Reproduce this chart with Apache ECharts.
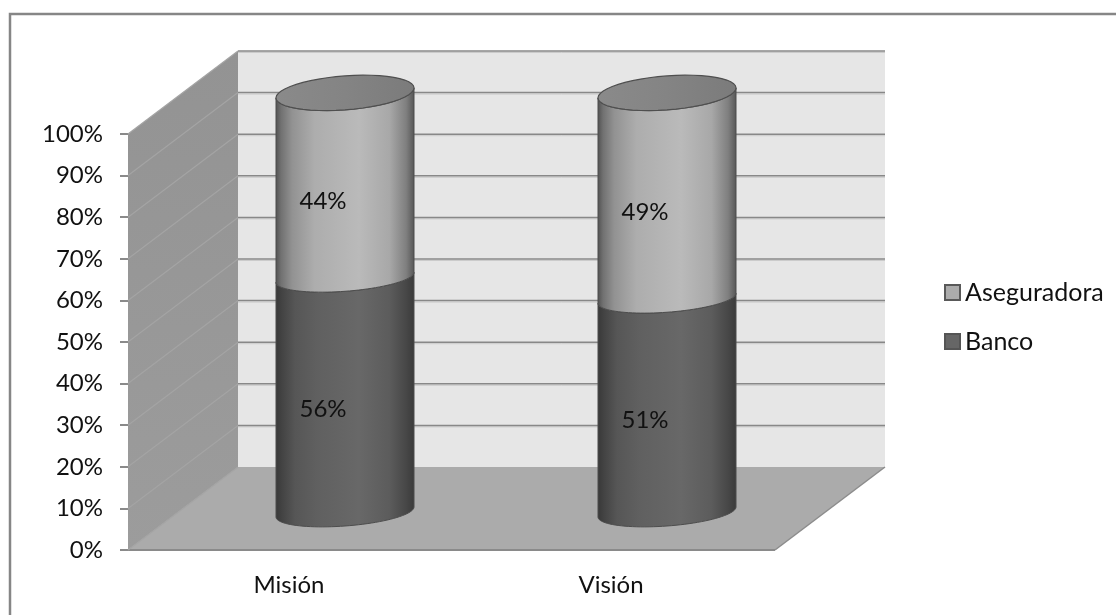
<!DOCTYPE html>
<html>
<head>
<meta charset="utf-8">
<style>html,body{margin:0;padding:0;background:#fff}#chart{width:1116px;height:615px}</style>
<script src="https://cdn.jsdelivr.net/npm/echarts@6/dist/echarts.min.js"></script>
</head>
<body>
<div id="chart"></div>
<script>
const categories = ['Misión', 'Visión'];
const banco = [56, 51];
const aseguradora = [44, 49];
const yTicks = [0, 10, 20, 30, 40, 50, 60, 70, 80, 90, 100];

// Oblique projection of the chart box
const DEPTH_X = 110, DEPTH_Y = -83, FLOOR_EXTRA = 3;
// Cylinder section
const RADIUS_X = 69, TILT = -5, RADIUS_Y = 14, CAP_RADIUS_Y = 17;
const FONT = 'Lato, "Open Sans", sans-serif';

function rimPoints(cx, cy, ry, from, to) {
  // Points along a tilted ellipse, angle 0 on the right, PI on the left, positive towards the viewer
  const pts = [];
  const n = 48;
  for (let i = 0; i <= n; i++) {
    const a = from + (to - from) * i / n;
    const c = Math.cos(a), s = Math.sin(a);
    pts.push([cx + RADIUS_X * c, cy + TILT * c + ry * s]);
  }
  return pts;
}

function cylinderCentre(api, cat, val) {
  const p = api.coord([cat, val]);
  const base = api.coord([cat, 0]);
  return [p[0] + DEPTH_X / 2 + 1, base[1] - 38 + (p[1] - base[1]) * 1.0075];
}

function verticalGradient(stops) {
  return { type: 'linear', x: 0, y: 0, x2: 1, y2: 0,
    colorStops: stops.map(s => ({ offset: s[0], color: s[1] })) };
}

const darkBody = verticalGradient([[0, '#383838'], [0.05, '#444444'], [0.14, '#565656'], [0.3, '#606060'], [0.6, '#686868'], [0.82, '#5c5c5c'], [0.94, '#474747'], [1, '#3a3a3a']]);
const lightBody = verticalGradient([[0, '#505050'], [0.04, '#717171'], [0.12, '#929292'], [0.28, '#adadad'], [0.6, '#bababa'], [0.82, '#a8a8a8'], [0.94, '#7f7f7f'], [1, '#555555']]);
const capFill = verticalGradient([[0, '#8a8a8a'], [0.5, '#848484'], [1, '#7b7b7b']]);

function cylinderItem(fill, topCap) {
  return function (params, api) {
    const cat = api.value(0), start = api.value(1), end = api.value(2), shown = api.value(3);
    const low = cylinderCentre(api, cat, start);
    const high = cylinderCentre(api, cat, end);
    const lowerRim = rimPoints(low[0], low[1], RADIUS_Y, 0, Math.PI);
    const upperRim = rimPoints(high[0], high[1], topCap ? CAP_RADIUS_Y : RADIUS_Y, Math.PI, 0);
    const children = [{
      type: 'polygon',
      shape: { points: lowerRim.concat(upperRim) },
      style: { fill: fill, stroke: '#4d4d4d', lineWidth: 1 }
    }];
    if (topCap) {
      children.push({
        type: 'polygon',
        shape: { points: rimPoints(high[0], high[1], CAP_RADIUS_Y, 0, Math.PI * 2) },
        style: { fill: capFill, stroke: '#4f4f4f', lineWidth: 1.2 }
      });
    }
    const mid = api.coord([cat, (start + end) / 2]);
    children.push({
      type: 'text',
      style: {
        x: mid[0] + 34, y: mid[1] - 24, text: shown + '%',
        font: '24px ' + FONT, fill: '#111', align: 'center', verticalAlign: 'middle'
      }
    });
    return { type: 'group', children };
  };
}

function wallsItem(params, api) {
  const c = params.coordSys;
  const L = c.x, R = c.x + c.width + FLOOR_EXTRA, T = c.y, B = c.y + c.height;
  return {
    type: 'group',
    children: [
      { type: 'polygon', shape: { points: [[L + DEPTH_X, T + DEPTH_Y], [R + DEPTH_X, T + DEPTH_Y], [R + DEPTH_X, B + DEPTH_Y], [L + DEPTH_X, B + DEPTH_Y]] },
        style: { fill: '#e6e6e6' } },
      { type: 'polygon', shape: { points: [[L, T], [L + DEPTH_X, T + DEPTH_Y], [L + DEPTH_X, B + DEPTH_Y], [L, B]] },
        style: { fill: { type: 'linear', x: 0, y: 0, x2: 0, y2: 1, colorStops: [{ offset: 0, color: '#939393' }, { offset: 1, color: '#9c9c9c' }] } } },
      { type: 'polygon', shape: { points: [[L, B], [L + DEPTH_X, B + DEPTH_Y], [R + DEPTH_X, B + DEPTH_Y], [R, B]] },
        style: { fill: '#ababab' } },
      { type: 'line', shape: { x1: R, y1: B, x2: R + DEPTH_X, y2: B + DEPTH_Y }, style: { stroke: '#8c8c8c', lineWidth: 1.5 } },
      { type: 'line', shape: { x1: L, y1: B, x2: R, y2: B }, style: { stroke: '#8a8a8a', lineWidth: 2 } }
    ]
  };
}

function gridItem(params, api) {
  const p = api.coord([0, api.value(1)]);
  const c = params.coordSys;
  const L = c.x, R = c.x + c.width + FLOOR_EXTRA;
  const y = p[1];
  const children = [{ type: 'line', shape: { x1: L, y1: y, x2: L + DEPTH_X, y2: y + DEPTH_Y }, style: { stroke: '#a4a4a4', lineWidth: 1.2 } }];
  if (api.value(1) > 0) {
    children.push(
      { type: 'line', shape: { x1: L + DEPTH_X, y1: y + DEPTH_Y + 1.5, x2: R + DEPTH_X, y2: y + DEPTH_Y + 1.5 }, style: { stroke: '#cbcbcb', lineWidth: 1 } },
      { type: 'line', shape: { x1: L + DEPTH_X, y1: y + DEPTH_Y, x2: R + DEPTH_X, y2: y + DEPTH_Y }, style: { stroke: '#888888', lineWidth: 1.5 } }
    );
  }
  return { type: 'group', children };
}

const stackRows = (base, own) => own.map((v, i) => [i, base ? base[i] : 0, (base ? base[i] : 0) + v, v]);

const chart = echarts.init(document.getElementById('chart'));
chart.setOption({
  animation: false,
  backgroundColor: '#ffffff',
  graphic: [{
    type: 'polyline', z: 0,
    shape: { points: [[10, 615], [10, 14], [1116, 14]] },
    style: { fill: 'none', stroke: '#868686', lineWidth: 2.5 }
  }],
  grid: { left: 128, top: 134, width: 644, height: 416 },
  legend: {
    left: 939, top: 275, orient: 'vertical', itemWidth: 15, itemHeight: 15, itemGap: 24,
    textStyle: { fontFamily: FONT, fontSize: 25, color: '#111', padding: [0, 0, 0, 0] },
    data: [
      { name: 'Aseguradora', icon: 'rect', itemStyle: { color: '#acacac', borderColor: '#595959', borderWidth: 2 } },
      { name: 'Banco', icon: 'rect', itemStyle: { color: '#666666', borderColor: '#555555', borderWidth: 2 } }
    ]
  },
  xAxis: {
    type: 'category', data: categories,
    axisLine: { lineStyle: { color: '#8a8a8a', width: 2 } },
    axisTick: { length: 7, alignWithLabel: false, lineStyle: { color: '#8a8a8a', width: 2 } },
    axisLabel: { fontFamily: FONT, fontSize: 24, color: '#111', margin: 23 }
  },
  yAxis: {
    type: 'value', min: 0, max: 100, interval: 10,
    axisLine: { show: true, lineStyle: { color: '#8f8f8f', width: 1 } },
    axisTick: { show: true, length: 8, lineStyle: { color: '#8a8a8a', width: 2 } },
    axisLabel: { fontFamily: FONT, fontSize: 24, color: '#111', margin: 25, formatter: '{value}%' },
    splitLine: { show: false }
  },
  series: [
    { type: 'custom', name: 'walls', z: 1, silent: true, clip: false, data: [[0, 0]], renderItem: wallsItem },
    { type: 'custom', name: 'gridlines', z: 1, silent: true, clip: false, data: yTicks.map(t => [0, t]), renderItem: gridItem },
    { type: 'custom', name: 'Banco', z: 3, clip: false, itemStyle: { color: '#666666' }, data: stackRows(null, banco), renderItem: cylinderItem(darkBody, false) },
    { type: 'custom', name: 'Aseguradora', z: 4, clip: false, itemStyle: { color: '#acacac' }, data: stackRows(banco, aseguradora), renderItem: cylinderItem(lightBody, true) }
  ]
});
</script>
</body>
</html>
